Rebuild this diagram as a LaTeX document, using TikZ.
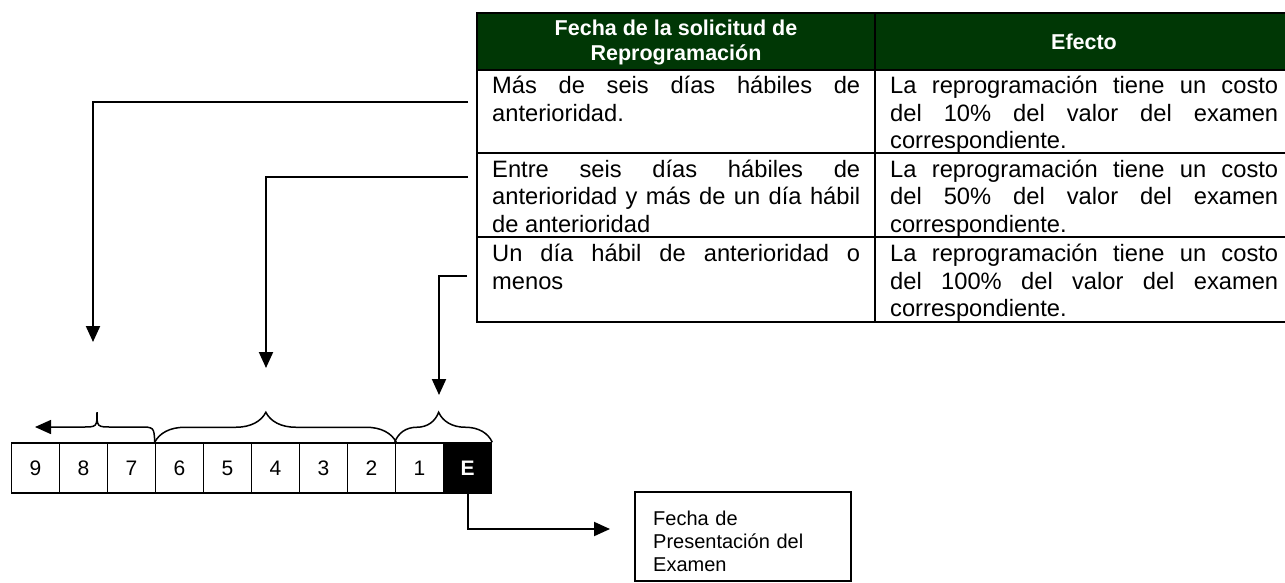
\documentclass[tikz,border=0pt]{standalone}
\usepackage{fontspec}
\setmainfont{Liberation Sans}
\usetikzlibrary{arrows.meta,decorations.pathreplacing}
\definecolor{headgreen}{RGB}{0,55,5}
\newcommand{\celltxt}[2]{\parbox[t]{#1}{\tolerance=10000\hyphenpenalty=10000\relax #2}}
\begin{document}
\begin{tikzpicture}[x=1pt,y=-1pt,
	cell/.style={anchor=base west,inner sep=0pt,font=\fontsize{23.7}{27.5}\selectfont},
	head/.style={inner sep=0pt,align=center,text=white,font=\fontsize{21.5}{25}\selectfont\bfseries},
	day/.style={draw,line width=1.5pt,minimum width=48pt,minimum height=50pt,inner sep=0pt,font=\fontsize{21}{25}\selectfont},
	arr/.style={line width=2pt,-{Triangle[width=14pt,length=16pt]}},
	brc/.style={line width=1.5pt,decorate,decoration={brace,amplitude=30pt}}]
	\useasboundingbox (0,0) rectangle (1285,582);
	\clip (0,0) rectangle (1285,582);
	
		\fill[headgreen] (477,13) rectangle (1300,70);
		\draw[line width=2.2pt] (1300,13) -- (477,13) -- (477,322) -- (1300,322);
		\draw[line width=2.2pt] (477,70) -- (1300,70);
		\draw[line width=2.2pt] (477,153) -- (1300,153);
		\draw[line width=2.2pt] (477,237) -- (1300,237);
		\draw[line width=2.2pt] (875,13) -- (875,322);
		
		\node[head] (h1) at (676,42) {Fecha de la solicitud de\\Reprogramación};
		\node[head] (h2) at (1084,42) {Efecto};
		
		\node[cell] (c11) at (492,93.5) {\celltxt{368pt}{Más de seis días hábiles de\linebreak anterioridad.}};
		\node[cell] (c12) at (890,93.5) {\celltxt{388pt}{La reprogramación tiene un costo\linebreak del 10\% del valor del examen\linebreak correspondiente.}};
		\node[cell] (c21) at (492,177) {\celltxt{368pt}{Entre seis días hábiles de\linebreak anterioridad y más de un día hábil\linebreak de anterioridad}};
		\node[cell] (c22) at (890,177) {\celltxt{388pt}{La reprogramación tiene un costo\linebreak del 50\% del valor del examen\linebreak correspondiente.}};
		\node[cell] (c31) at (492,261.5) {\celltxt{368pt}{Un día hábil de anterioridad o\linebreak menos}};
		\node[cell] (c32) at (890,261.5) {\celltxt{388pt}{La reprogramación tiene un costo\linebreak del 100\% del valor del examen\linebreak correspondiente.}};
		
		\node[day] (d9) at (35.5,468) {9};
		\node[day] (d8) at (83.5,468) {8};
		\node[day] (d7) at (131.5,468) {7};
		\node[day] (d6) at (179.5,468) {6};
		\node[day] (d5) at (227.5,468) {5};
		\node[day] (d4) at (275.5,468) {4};
		\node[day] (d3) at (323.5,468) {3};
		\node[day] (d2) at (371.5,468) {2};
		\node[day] (d1) at (419.5,468) {1};
		\node[day,fill=black,text=white,font=\fontsize{21}{25}\selectfont\bfseries] (dE) at (467.5,468) {E};
		
		\draw[brc,decoration={aspect=0.46}] (d6.north west) -- (d2.north east);
		\draw[brc,decoration={aspect=0.45}] (d1.north west) -- (dE.north east);
		\coordinate (lt) at (35,427);
		\draw[line width=1.5pt,-{Triangle[width=14pt,length=16pt]}] (d6.north west) .. controls (154,427) .. (139,427) -- (112,427) .. controls (97,427) .. (97,412) .. controls (97,427) .. (82,427) -- (lt);
		
		\coordinate (s1) at (468,102);
		\coordinate (t1) at (93,342);
		\coordinate (s2) at (468,177);
		\coordinate (t2) at (266,368);
		\coordinate (s3) at (467,276);
		\coordinate (t3) at (439,395);
		\draw[arr] (s1) -| (t1);
		\draw[arr] (s2) -| (t2);
		\draw[arr] (s3) -| (t3);
		
		\node[draw,line width=1.5pt,minimum width=216pt,minimum height=89pt,inner sep=0pt] (pres) at (743,536.5) {};
		\node[anchor=base west,inner sep=0pt,text width=190pt,align=left,font=\fontsize{20}{23.3}\selectfont] (prestxt) at (653,525) {Fecha de\\Presentación del\\Examen};
		\coordinate (pt) at (610,529);
		\draw[arr] (dE.south) |- (pt);
\end{tikzpicture}
\end{document}
